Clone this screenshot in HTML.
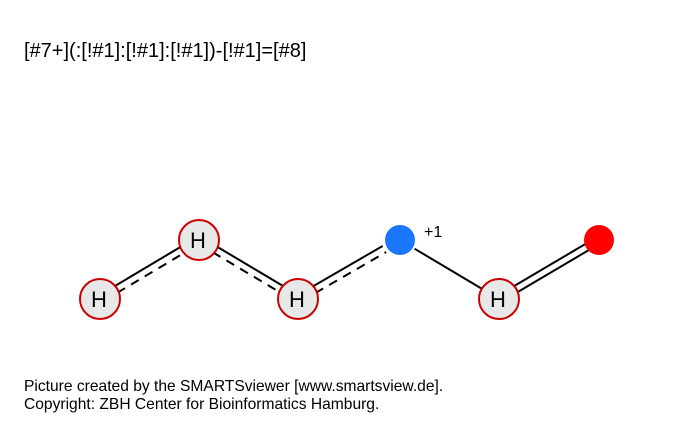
<!DOCTYPE html>
<html><head><meta charset="utf-8"><style>
body{margin:0;background:#fff;}
svg{display:block;font-family:"Liberation Sans",sans-serif;}
</style></head><body>
<svg id="mol" width="700" height="425">
<rect width="700" height="425" fill="#fff"/>
<text x="24" y="57" font-size="20" fill="#000">[#7+](:[!#1]:[!#1]:[!#1])-[!#1]=[#8]</text>
<text x="24" y="391" font-size="15.6" fill="#000">Picture created by the SMARTSviewer [www.smartsview.de].</text>
<text x="24" y="409" font-size="15.6" fill="#000">Copyright: ZBH Center for Bioinformatics Hamburg.</text>
<g id="bonds"></g><g id="atoms"></g>
</svg>
<script>
const atomX=[100,199,298,400,499,599];
const atomY=[299,240,299,240,299,240];
const atomType=["H","H","H","N","H","O"];
const bondFrom=[0,1,2,3,4];
const bondTo=[1,2,3,4,5];
const bondKind=["arom","arom","arom","single","double"];
const NS="http://www.w3.org/2000/svg";
const bg=document.getElementById('bonds'),ag=document.getElementById('atoms');
function line(x1,y1,x2,y2,dash){const l=document.createElementNS(NS,'line');
l.setAttribute('x1',x1);l.setAttribute('y1',y1);l.setAttribute('x2',x2);l.setAttribute('y2',y2);
l.setAttribute('stroke','#000');l.setAttribute('stroke-width','2');if(dash)l.setAttribute('stroke-dasharray','9 7');


bg.appendChild(l);}
bondFrom.forEach((f,i)=>{const t=bondTo[i];let x1=atomX[f],y1=atomY[f],x2=atomX[t],y2=atomY[t];
const dx=x2-x1,dy=y2-y1,L=Math.hypot(dx,dy),ux=dx/L,uy=dy/L,nx=-uy,ny=ux;
const k=bondKind[i];
if(k==="single"){line(x1+ux*17,y1+uy*17,x2-ux*20,y2-uy*20);}
else if(k==="double"){const o=3.5;line(x1+ux*18+nx*o,y1+uy*18+ny*o,x2-ux*14+nx*o,y2-uy*14+ny*o);line(x1+ux*18-nx*o,y1+uy*18-ny*o,x2-ux*14-nx*o,y2-uy*14-ny*o);}
else{const o=3.5;const s=(ny>0?1:-1);line(x1+ux*18-nx*o*s,y1+uy*18-ny*o*s,x2-ux*18-nx*o*s,y2-uy*18-ny*o*s);
line(x1+ux*18+nx*o*s,y1+uy*18+ny*o*s,x2-ux*18+nx*o*s,y2-uy*18+ny*o*s,true);}
});
atomType.forEach((t,i)=>{const x=atomX[i],y=atomY[i];const c=document.createElementNS(NS,'circle');
c.setAttribute('cx',x);c.setAttribute('cy',y);
if(t==="H"){c.setAttribute('r',20);c.setAttribute('fill','#e8e8e8');c.setAttribute('stroke','#cc0000');c.setAttribute('stroke-width','2');}
else{c.setAttribute('r',15);c.setAttribute('fill',t==="N"?'#1a75ff':'#ff0000');}


ag.appendChild(c);
if(t==="H"){const tx=document.createElementNS(NS,'text');tx.setAttribute('x',x-1);tx.setAttribute('y',y+8);tx.setAttribute('text-anchor','middle');tx.setAttribute('font-size','22');tx.textContent='H';


ag.appendChild(tx);}
if(t==="N"){const tx=document.createElementNS(NS,'text');tx.setAttribute('x',x+24);tx.setAttribute('y',y-3);tx.setAttribute('font-size','16');tx.textContent='+1';


ag.appendChild(tx);}
});
</script>
</body></html>
